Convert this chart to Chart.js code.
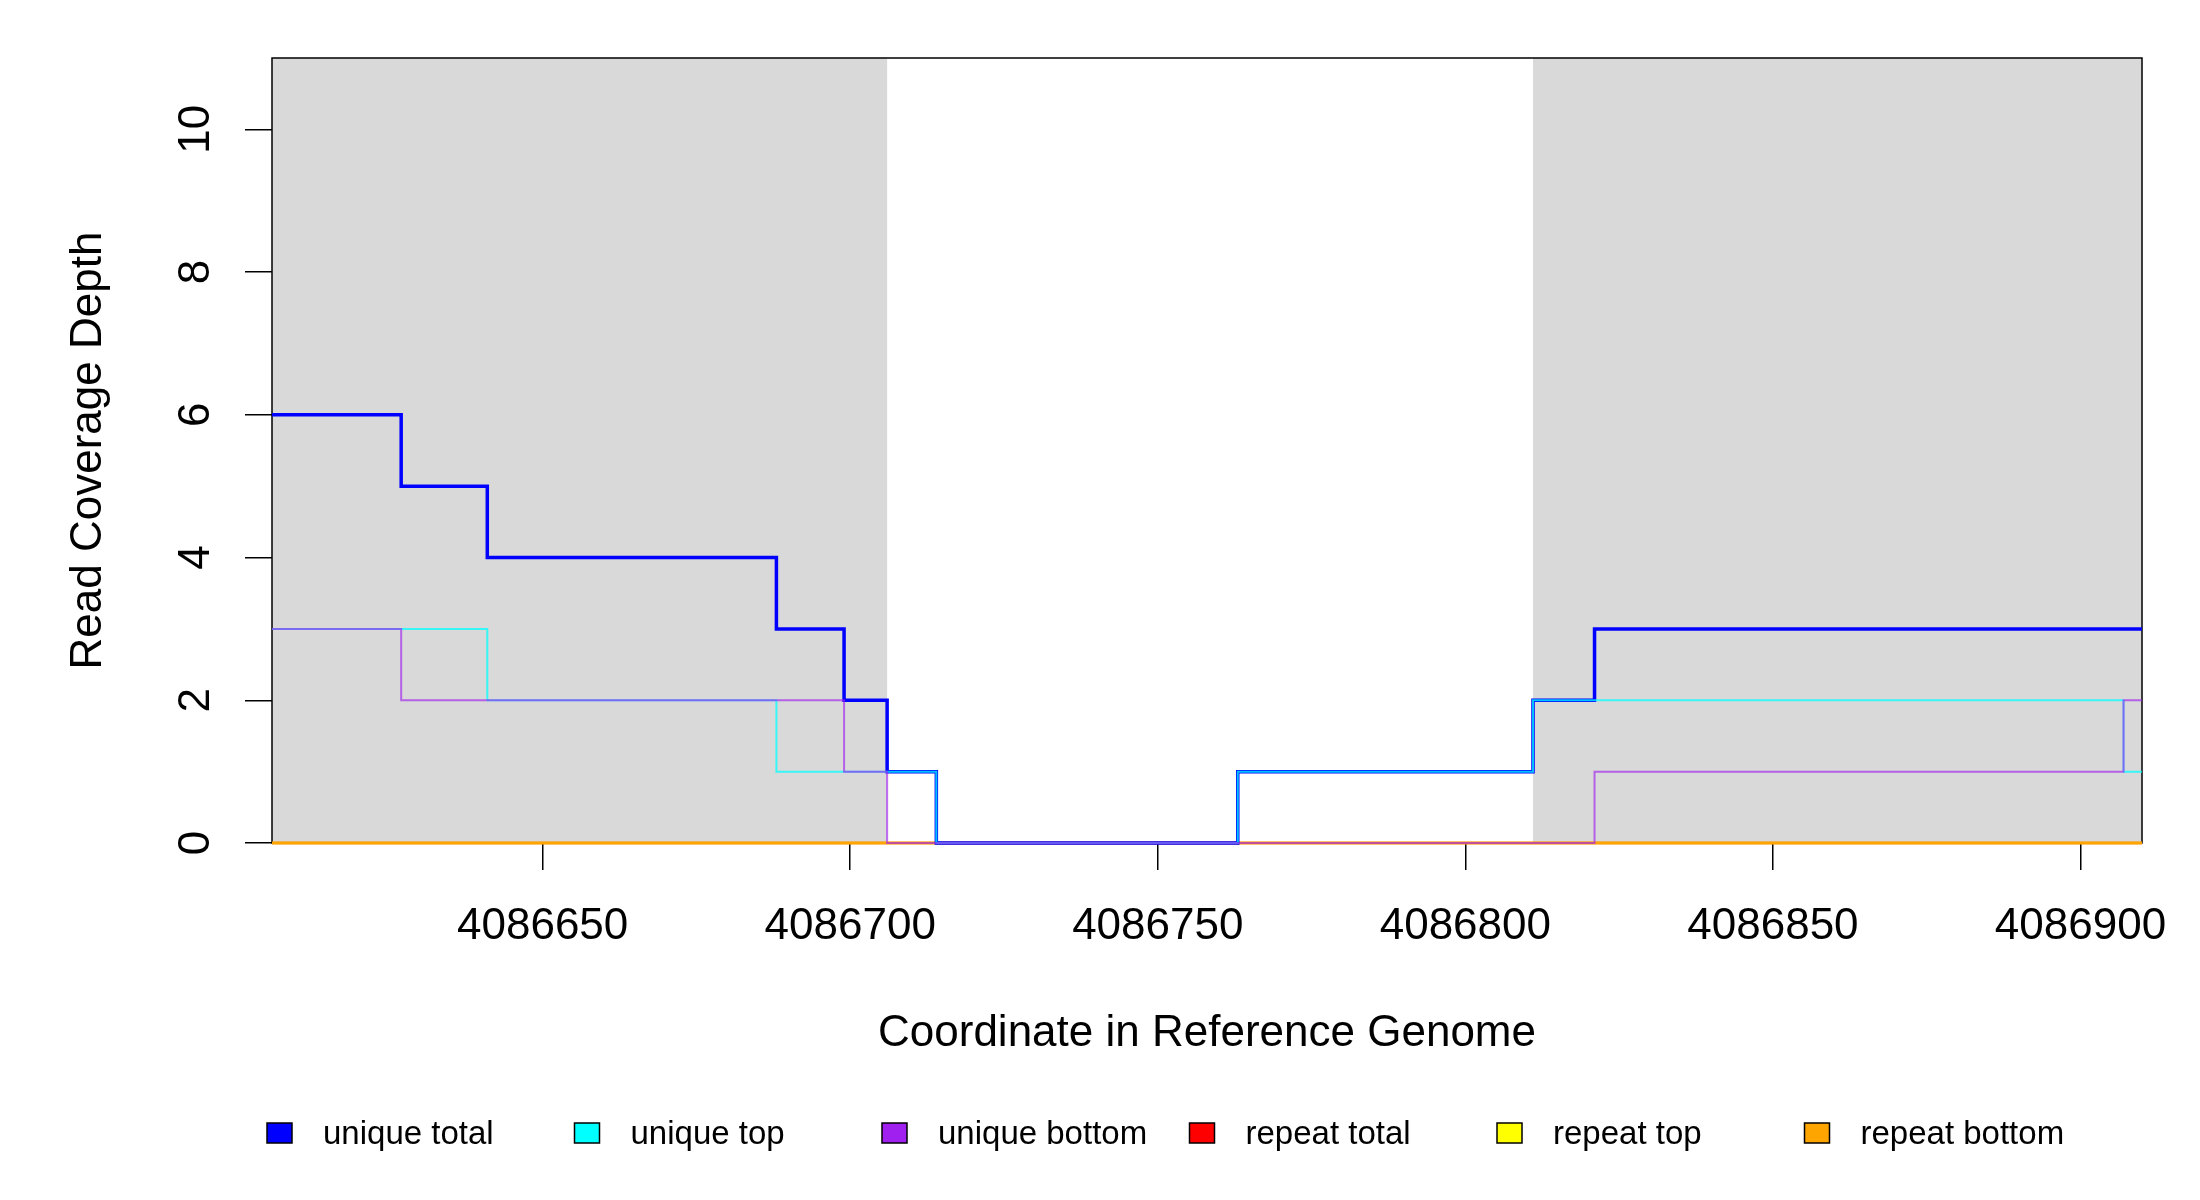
<!DOCTYPE html>
<html lang="en">
<head>
    <meta charset="UTF-8">
    <title>Read Coverage Depth</title>
    <script src="https://cdn.jsdelivr.net/npm/chart.js"></script>
    <style>
        body {
            margin: 0;
            padding: 0;
            background: #ffffff;
        }
        #wrap {
            width: 2200px;
            height: 1200px;
        }
    </style>
</head>
<body>
    <div id="wrap">
        <canvas id="coverageChart" width="2200" height="1200"></canvas>
    </div>

    <script>
        // genome window shown on the x axis
        const xMin = 4086606;
        const xMax = 4086910;
        const xTicks = [4086650, 4086700, 4086750, 4086800, 4086850, 4086900];
        const yTicks = [0, 2, 4, 6, 8, 10];

        // shaded (grey) regions
        const shadeStart = [4086606, 4086811];
        const shadeEnd = [4086706, 4086910];

        // step positions and depth values (value holds until next position)
        const uniqueTotalPos = [4086606, 4086627, 4086641, 4086688, 4086699, 4086706, 4086714, 4086763, 4086811, 4086821, 4086910];
        const uniqueTotalVal = [6, 5, 4, 3, 2, 1, 0, 1, 2, 3, 3];

        const uniqueTopPos = [4086606, 4086641, 4086688, 4086714, 4086763, 4086811, 4086907, 4086910];
        const uniqueTopVal = [3, 2, 1, 0, 1, 2, 1, 1];

        const uniqueBottomPos = [4086606, 4086627, 4086699, 4086706, 4086821, 4086907, 4086910];
        const uniqueBottomVal = [3, 2, 1, 0, 1, 2, 2];

        const repeatPos = [4086606, 4086910];
        const repeatTotalVal = [0, 0];
        const repeatTopVal = [0, 0];
        const repeatBottomVal = [0, 0];

        const legendNames = ['unique total', 'unique top', 'unique bottom', 'repeat total', 'repeat top', 'repeat bottom'];
        const legendColors = ['#0000ff', '#00ffff', '#a020f0', '#ff0000', '#ffff00', '#ffa500'];

        const FONT = '"Liberation Sans", Arial, Helvetica, sans-serif';

        function toPoints(pos, val) {
            return pos.map((p, i) => ({ x: p, y: val[i] }));
        }

        function stepSet(label, pos, val, color, width, order) {
            return {
                label: label,
                data: toPoints(pos, val),
                borderColor: color,
                borderWidth: width,
                stepped: true,
                pointRadius: 0,
                fill: false,
                clip: 6,
                order: order
            };
        }

        // grey boxes behind the lines, plus the frame
        const backdropPlugin = {
            id: 'backdrop',
            beforeDatasetsDraw(chart) {
                const ctx = chart.ctx;
                const area = chart.chartArea;
                const xs = chart.scales.x;
                ctx.save();
                ctx.fillStyle = '#d9d9d9';
                for (let i = 0; i < shadeStart.length; i++) {
                    const a = xs.getPixelForValue(shadeStart[i]);
                    const b = xs.getPixelForValue(shadeEnd[i]);
                    ctx.fillRect(a, area.top, b - a, area.bottom - area.top);
                }
                ctx.strokeStyle = '#000000';
                ctx.lineWidth = 1.5;
                ctx.strokeRect(area.left, area.top, area.right - area.left, area.bottom - area.top);
                ctx.restore();
            },
            afterDraw(chart) {
                const ctx = chart.ctx;
                const area = chart.chartArea;
                const ys = chart.scales.y;
                ctx.save();
                ctx.fillStyle = '#000000';

                // rotated y tick labels
                ctx.font = '44px ' + FONT;
                ctx.textAlign = 'center';
                ctx.textBaseline = 'alphabetic';
                ys.ticks.forEach(t => {
                    const y = ys.getPixelForValue(t.value);
                    ctx.save();
                    ctx.translate(209, y);
                    ctx.rotate(-Math.PI / 2);
                    ctx.fillText(String(t.value), 0, 0);
                    ctx.restore();
                });

                // axis titles
                ctx.fillText('Coordinate in Reference Genome', (area.left + area.right) / 2, 1046);
                ctx.save();
                ctx.translate(101, (area.top + area.bottom) / 2);
                ctx.rotate(-Math.PI / 2);
                ctx.fillText('Read Coverage Depth', 0, 0);
                ctx.restore();

                // legend row
                ctx.font = '33px ' + FONT;
                ctx.textAlign = 'left';
                legendNames.forEach((name, i) => {
                    const left = 267 + i * 307.5;
                    ctx.fillStyle = legendColors[i];
                    ctx.fillRect(left, 1123, 25, 20);
                    ctx.strokeStyle = '#000000';
                    ctx.lineWidth = 1.5;
                    ctx.strokeRect(left, 1123, 25, 20);
                    ctx.fillStyle = '#000000';
                    ctx.fillText(name, left + 56, 1144);
                });
                ctx.restore();
            }
        };

        const ctx = document.getElementById('coverageChart').getContext('2d');

        const coverageChart = new Chart(ctx, {
            type: 'line',
            data: {
                datasets: [
                    stepSet('repeat total', repeatPos, repeatTotalVal, '#ff0000', 2.5, 6),
                    stepSet('repeat top', repeatPos, repeatTopVal, '#ffff00', 2.5, 5),
                    stepSet('repeat bottom', repeatPos, repeatBottomVal, '#ffa500', 2.5, 4),
                    stepSet('unique total', uniqueTotalPos, uniqueTotalVal, '#0000ff', 3.5, 3),
                    stepSet('unique top', uniqueTopPos, uniqueTopVal, 'rgba(0, 255, 255, 0.75)', 2, 2),
                    stepSet('unique bottom', uniqueBottomPos, uniqueBottomVal, 'rgba(160, 32, 240, 0.65)', 2, 1)
                ]
            },
            options: {
                responsive: false,
                animation: false,
                devicePixelRatio: 1,
                layout: {
                    padding: { left: 0, top: 58, right: 58, bottom: 0 }
                },
                plugins: {
                    legend: { display: false },
                    tooltip: { enabled: false }
                },
                scales: {
                    x: {
                        type: 'linear',
                        min: xMin,
                        max: xMax,
                        afterBuildTicks(scale) {
                            scale.ticks = xTicks.map(v => ({ value: v }));
                        },
                        afterFit(scale) {
                            scale.height = 357;
                        },
                        grid: {
                            drawOnChartArea: false,
                            drawTicks: true,
                            tickLength: 27,
                            color: '#000000',
                            lineWidth: 1.5
                        },
                        border: { display: false },
                        ticks: {
                            autoSkip: false,
                            maxRotation: 0,
                            padding: 30,
                            color: '#000000',
                            font: { family: FONT, size: 44 },
                            callback: v => String(v)
                        }
                    },
                    y: {
                        type: 'linear',
                        min: 0,
                        max: 11,
                        afterBuildTicks(scale) {
                            scale.ticks = yTicks.map(v => ({ value: v }));
                        },
                        afterFit(scale) {
                            scale.width = 272;
                        },
                        grid: {
                            drawOnChartArea: false,
                            drawTicks: true,
                            tickLength: 27,
                            color: '#000000',
                            lineWidth: 1.5
                        },
                        border: { display: false },
                        ticks: { display: false }
                    }
                }
            },
            plugins: [backdropPlugin]
        });
    </script>
</body>
</html>
